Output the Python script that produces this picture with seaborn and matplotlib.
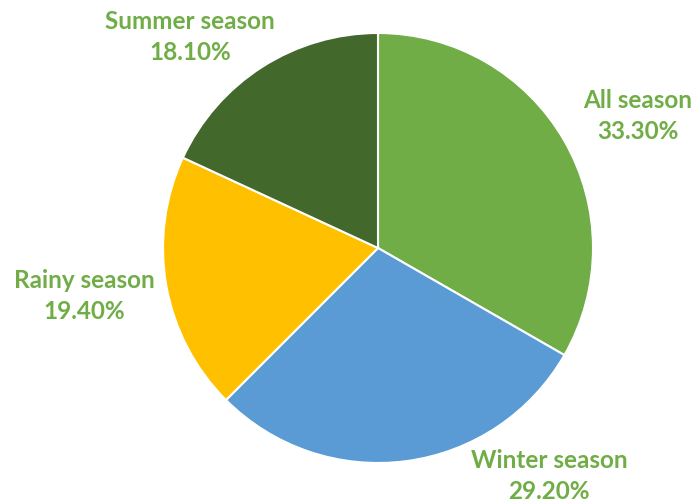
import matplotlib
matplotlib.use("Agg")
import matplotlib.pyplot as plt
import seaborn as sns

categories = ["All season", "Winter season", "Rainy season", "Summer season"]
values = [33.3, 29.2, 19.4, 18.1]
colors = ["#70AD47", "#5B9BD5", "#FFC000", "#43682B"]
# label positions (pixel coords from top-left)
label_pos = [(638, 116), (549, 476), (84, 296), (190, 37)]

sns.set_theme(style="white")
plt.rcParams['font.family'] = ['Lato', 'DejaVu Sans']

W, H = 698, 503
fig = plt.figure(figsize=(W / 100, H / 100), dpi=100)
ax = fig.add_axes([0, 0, 1, 1])

ax.pie(values, colors=colors, startangle=90, counterclock=False,
       center=(378, H - 248), radius=215, frame=True,
       wedgeprops=dict(edgecolor="white", linewidth=1.5))
ax.set_xlim(0, W)
ax.set_ylim(0, H)
ax.set_aspect("equal")
ax.axis("off")

for cat, v, (x, y) in zip(categories, values, label_pos):
    ax.text(x, H - y, f"{cat}\n{v:.2f}%", ha="center", va="center",
            color="#70AD47", fontsize=17.5, fontweight="bold", linespacing=1.45)

fig.savefig("out.png", dpi=100)
